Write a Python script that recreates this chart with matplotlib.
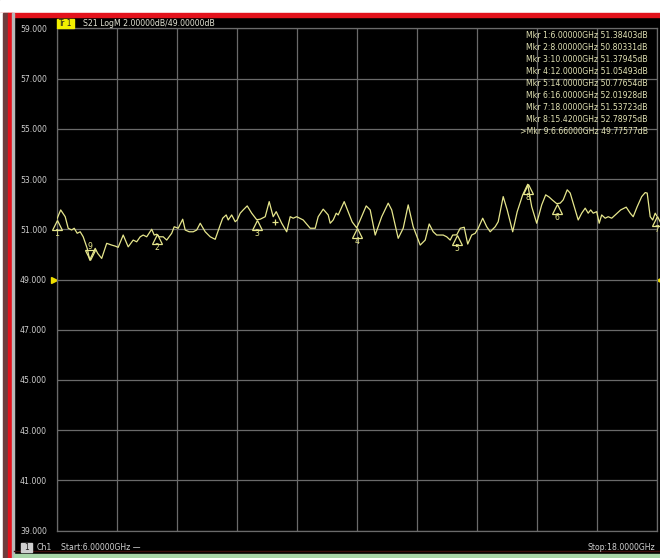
import numpy as np
import matplotlib.pyplot as plt
from matplotlib.patches import Rectangle
from matplotlib.transforms import offset_copy, blended_transform_factory

# S21 sweep, 6-18 GHz
freq_ghz = [
    6.00, 6.08, 6.17, 6.23, 6.30, 6.35, 6.41, 6.47, 6.53, 6.61,
    6.66, 6.77, 6.82, 6.90, 7.00, 7.10, 7.17, 7.23, 7.33, 7.43,
    7.53, 7.60, 7.67, 7.73, 7.80, 7.90, 7.95, 8.00, 8.05, 8.13,
    8.20, 8.30, 8.35, 8.43, 8.52, 8.57, 8.65, 8.73, 8.80, 8.87,
    8.97, 9.07, 9.17, 9.27, 9.32, 9.39, 9.43, 9.50, 9.57, 9.61,
    9.67, 9.73, 9.81, 9.90, 10.00, 10.07, 10.17, 10.25, 10.33, 10.39,
    10.50, 10.60, 10.67, 10.73, 10.80, 10.93, 11.07, 11.17, 11.23, 11.33,
    11.43, 11.47, 11.53, 11.59, 11.63, 11.75, 11.83, 11.91, 12.00, 12.07,
    12.19, 12.27, 12.37, 12.50, 12.63, 12.70, 12.83, 12.93, 13.03, 13.13,
    13.27, 13.37, 13.45, 13.53, 13.60, 13.73, 13.80, 13.87, 13.92, 14.00,
    14.07, 14.15, 14.22, 14.30, 14.37, 14.43, 14.52, 14.60, 14.67, 14.77,
    14.83, 14.93, 15.01, 15.12, 15.21, 15.32, 15.42, 15.50, 15.60, 15.70,
    15.78, 15.85, 15.91, 16.00, 16.07, 16.13, 16.21, 16.27, 16.35, 16.43,
    16.50, 16.57, 16.63, 16.68, 16.73, 16.80, 16.85, 16.90, 16.97, 17.03,
    17.10, 17.17, 17.28, 17.39, 17.47, 17.53, 17.61, 17.70, 17.77, 17.81,
    17.87, 17.92, 17.97, 18.00,
]
s21_db = [
    51.38403, 51.77, 51.50, 51.04, 50.97, 51.04, 50.84, 50.90, 50.70, 50.24,
    49.77577, 50.24, 50.04, 49.84, 50.44, 50.37, 50.33, 50.28, 50.77, 50.30,
    50.57, 50.50, 50.70, 50.77, 50.70, 51.00, 50.77, 50.80331, 50.70, 50.70,
    50.57, 50.84, 51.10, 51.04, 51.40, 50.97, 50.90, 50.90, 50.97, 51.24,
    50.90, 50.70, 50.60, 51.17, 51.44, 51.57, 51.37, 51.57, 51.30, 51.37,
    51.64, 51.77, 51.93, 51.64, 51.37945, 51.40, 51.50, 52.10, 51.50, 51.70,
    51.24, 50.90, 51.50, 51.44, 51.50, 51.37, 51.04, 51.04, 51.50, 51.80,
    51.57, 51.24, 51.37, 51.64, 51.57, 52.10, 51.70, 51.29, 51.05493, 51.37,
    51.93, 51.77, 50.77, 51.50, 52.04, 51.77, 50.64, 51.04, 51.97, 51.10,
    50.37, 50.57, 51.21, 50.90, 50.77, 50.77, 50.70, 50.57, 50.77, 50.77654,
    51.04, 51.08, 50.41, 50.77, 50.84, 51.04, 51.44, 51.10, 50.90, 51.10,
    51.30, 52.30, 51.77, 50.90, 51.70, 52.37, 52.78975, 51.90, 51.24, 51.97,
    52.37, 52.28, 52.17, 52.01928, 52.04, 52.17, 52.57, 52.44, 51.90, 51.37,
    51.64, 51.84, 51.64, 51.77, 51.64, 51.70, 51.24, 51.57, 51.44, 51.50,
    51.44, 51.57, 51.77, 51.88, 51.64, 51.50, 51.90, 52.30, 52.46, 52.44,
    51.50, 51.37, 51.64, 51.53723,
]

# markers
mkr_num = [1, 2, 3, 4, 5, 6, 7, 8, 9]
mkr_freq = [6.0, 8.0, 10.0, 12.0, 14.0, 16.0, 18.0, 15.42, 6.66]
mkr_db = [51.38403, 50.80331, 51.37945, 51.05493, 50.77654,
          52.01928, 51.53723, 52.78975, 49.77577]
active_mkr = 9
cross_f, cross_db = 10.37, 51.29

f_start, f_stop = 6.0, 18.0
ref_level = 49.0
scale_db = 2.0
y_ticks = [39, 41, 43, 45, 47, 49, 51, 53, 55, 57, 59]

TRACE = "#e6e68c"
GRID = "#6a6a6a"
TXT = "#d0d0d0"
FNT = dict(family="DejaVu Sans", stretch="condensed")

W, H = 660, 558
fig = plt.figure(figsize=(W / 100, H / 100), dpi=100, facecolor="black")

# frame around the screen, in pixel coords
bg = fig.add_axes([0, 0, 1, 1])
bg.set_xlim(0, W)
bg.set_ylim(H, 0)
bg.axis("off")
bg.add_patch(Rectangle((0, 0), W, 13, color="white"))
bg.add_patch(Rectangle((0, 13), W, 4, color="#e3121c"))
bg.add_patch(Rectangle((0, 13), 3, H, color="white"))
bg.add_patch(Rectangle((3, 13), 5, H, color="#6e3c3c"))
bg.add_patch(Rectangle((8, 13), 4, H, color="#e3121c"))
bg.add_patch(Rectangle((12, 13), 2, H, color="#b8b8b8"))
bg.add_patch(Rectangle((14, 553.5), W, 5, color="#a8d4a8"))
bg.plot([14, W], [550.5, 550.5], color="#3c0c0c", lw=1)

# measurement grid
ax = fig.add_axes([56.7 / W, 1 - 530.7 / H, 600 / W, 502.4 / H])
ax.set_facecolor("black")
ax.set_xlim(f_start, f_stop)
ax.set_ylim(y_ticks[0], y_ticks[-1])
ax.set_xticks(np.linspace(f_start, f_stop, 11))
ax.set_yticks(y_ticks)
ax.set_yticklabels([f"{v:.3f}" for v in y_ticks], **FNT)
ax.tick_params(length=0, labelbottom=False, labelcolor=TXT, labelsize=6.2, pad=7)
ax.grid(True, color=GRID, lw=0.9)
for s in ax.spines.values():
    s.set_color(GRID)
    s.set_linewidth(0.9)

ax.plot(freq_ghz, s21_db, color=TRACE, lw=0.9, zorder=3)

# marker triangles: tip sits on the trace point
up = offset_copy(ax.transData, fig=fig, y=-4.9, units="dots")
dn = offset_copy(ax.transData, fig=fig, y=4.9, units="dots")
below = offset_copy(ax.transData, fig=fig, y=-13.5, units="dots")
above = offset_copy(ax.transData, fig=fig, y=13.5, units="dots")
for n, f, d in zip(mkr_num, mkr_freq, mkr_db):
    active = n == active_mkr
    ax.plot([f], [d], marker="v" if active else "^", ms=7, mfc="none", mec=TRACE,
            mew=0.9, transform=dn if active else up, clip_on=False, zorder=4)
    ax.text(f, d, str(n), color=TRACE, fontsize=6.2, ha="center", va="center",
            transform=above if active else below, clip_on=False, **FNT)
ax.plot([cross_f], [cross_db], marker="+", ms=5, mec=TRACE, mew=0.9, zorder=4)

# reference level pointers
left_ref = offset_copy(blended_transform_factory(ax.transAxes, ax.transData),
                       fig=fig, x=-3, units="dots")
right_ref = offset_copy(blended_transform_factory(ax.transAxes, ax.transData),
                        fig=fig, x=2, units="dots")
ax.plot([0], [ref_level], marker=">", ms=4.5, color="#f0e000", transform=left_ref,
        clip_on=False)
ax.plot([1], [ref_level], marker="<", ms=3.5, color="#f0e000", transform=right_ref,
        clip_on=False)

# text layer on top of the grid
top = fig.add_axes([0, 0, 1, 1])
top.set_xlim(0, W)
top.set_ylim(H, 0)
top.axis("off")

top.add_patch(Rectangle((56.7, 19), 17.5, 8.5, color="#f2f000"))
top.text(58, 23.5, "Tr 1", color="#202020", fontsize=6, va="center", **FNT)
top.text(83, 23.5, f"S21 LogM {scale_db:.5f}dB/{ref_level:.5f}dB",
         color="#e4e4d4", fontsize=6.2, va="center", **FNT)

# marker table
for i, (n, f, d) in enumerate(zip(mkr_num, mkr_freq, mkr_db)):
    line = f"Mkr {n}:{f:#.6g}GHz {d:.5f}dB"
    if n == active_mkr:
        line = ">" + line
    top.text(647.5, 35 + i * 12.04, line, color="#e2e2b4", fontsize=6.2,
             ha="right", va="center", **FNT)

# status line
top.add_patch(Rectangle((20.7, 543), 11, 8.7, color="#cfcfcf"))
top.text(26.2, 547.5, "1", color="#202020", fontsize=6, ha="center", va="center", **FNT)
top.text(37, 547.5, "Ch1", color=TXT, fontsize=6.2, va="center", **FNT)
top.text(61, 547.5, f"Start:{f_start:#.6g}GHz \u2014", color=TXT, fontsize=6.2,
         va="center", **FNT)
top.text(655, 547.5, f"Stop:{f_stop:#.6g}GHz", color=TXT, fontsize=6.2,
         ha="right", va="center", **FNT)

fig.savefig("out.png", dpi=100, facecolor=fig.get_facecolor())
